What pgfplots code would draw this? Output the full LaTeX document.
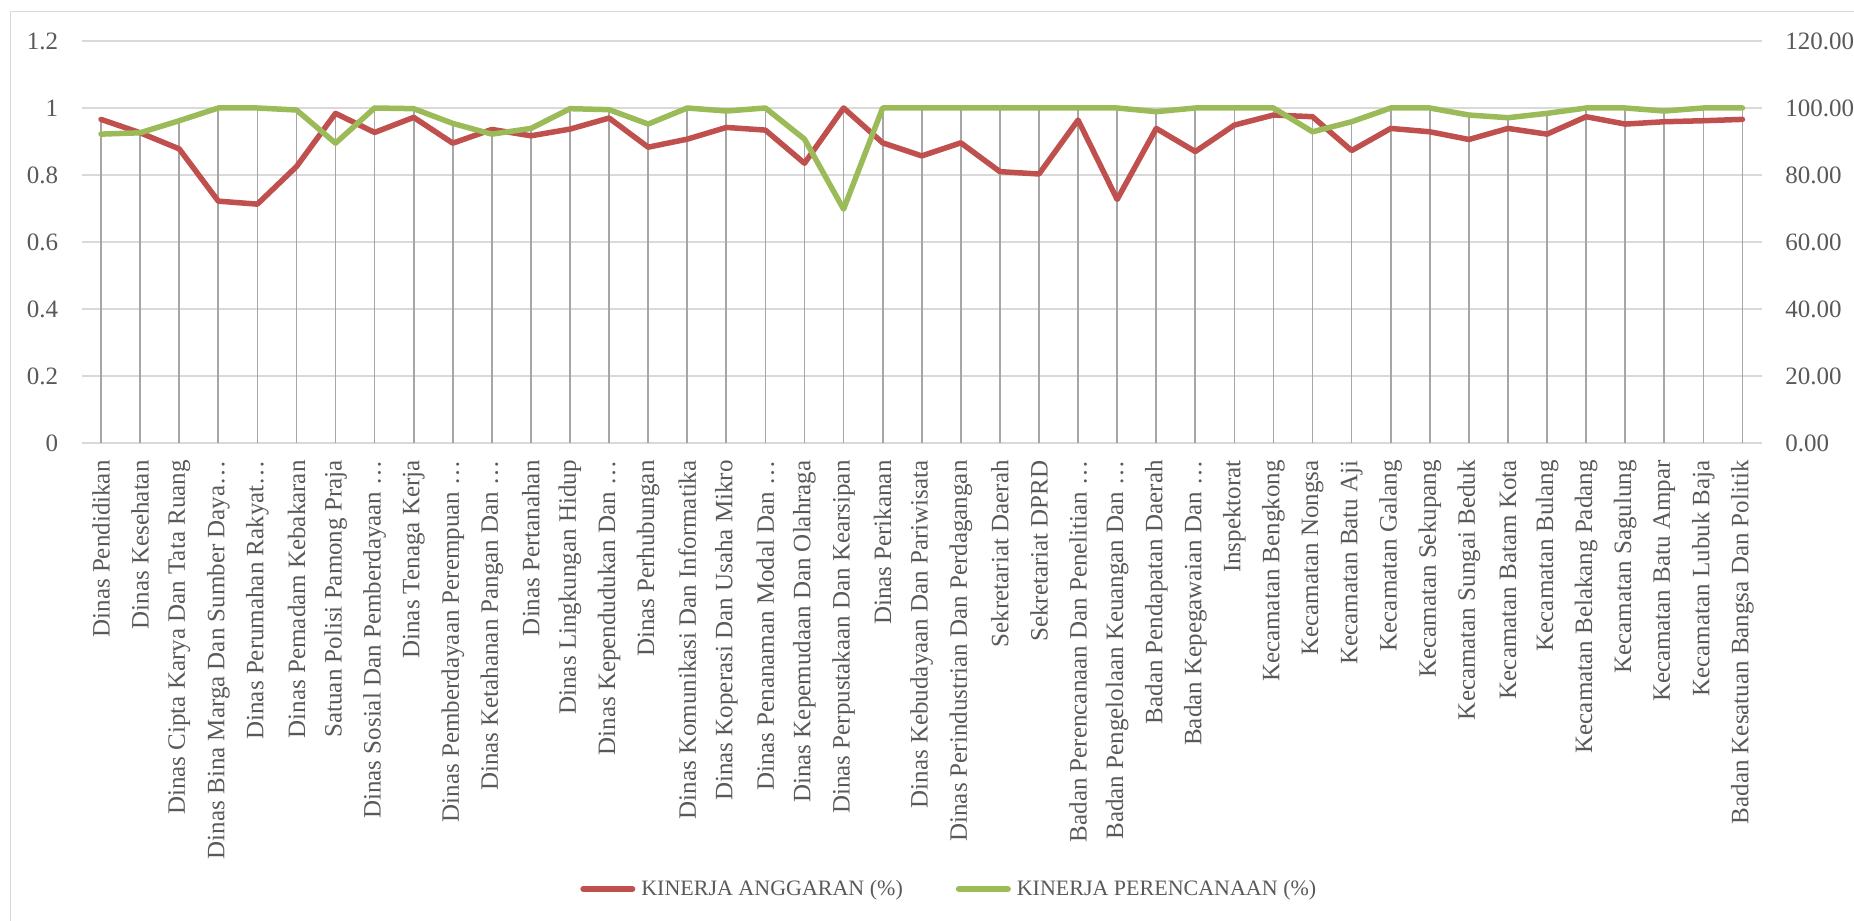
\documentclass[border=0pt]{standalone}
\usepackage{pgfplots}
\pgfplotsset{compat=1.18}
\usepackage{pgfplotstable}
\usepackage{fontspec}
\setmainfont{Liberation Serif}

\definecolor{kred}{HTML}{C0504D}
\definecolor{kgreen}{HTML}{9BBB59}
\definecolor{txt}{HTML}{595959}
\definecolor{gridc}{HTML}{D9D9D9}
\definecolor{dropc}{HTML}{A6A6A6}

% i = category index, ang = kinerja anggaran (fraction), per = kinerja perencanaan (%)
\pgfplotstableread{
i  ang    per
0  0.966  92.2
1  0.926  92.6
2  0.878  96.2
3  0.722  100
4  0.713  100
5  0.825  99.4
6  0.984  89.5
7  0.927  100
8  0.972  99.8
9  0.895  95.4
10 0.936  92.2
11 0.917  93.9
12 0.937  99.8
13 0.970  99.5
14 0.883  95.2
15 0.907  100
16 0.942  99.1
17 0.934  100
18 0.835  90.7
19 1.000  69.8
20 0.896  100
21 0.857  100
22 0.896  100
23 0.810  100
24 0.803  100
25 0.964  100
26 0.727  100
27 0.939  98.9
28 0.870  100
29 0.949  100
30 0.979  100
31 0.974  92.9
32 0.873  95.9
33 0.939  100
34 0.929  100
35 0.906  97.9
36 0.939  97.1
37 0.922  98.4
38 0.974  100
39 0.952  100
40 0.959  99.1
41 0.962  100
42 0.966  100
}\kinerja

\pgfplotsset{
  kbase/.style={
    scale only axis, width=840.25pt, height=201pt,
    at={(40.75pt,239pt)}, anchor=south west,
    xmin=-0.5, xmax=42.5,
    major tick length=0pt, tick style={draw=none},
    axis line style={draw=none},
    tick label style={font=\fontsize{12.5}{14}\selectfont, text=txt,
      /pgf/number format/assume math mode=true},
  },
  kline/.style={mark=none, line width=2.75pt, line join=round, line cap=round},
}

\begin{document}
\begin{tikzpicture}
\useasboundingbox (0,0) rectangle (927pt,460.5pt);
\draw[gridc, line width=0.7pt] (5.35pt,-2pt) -- (5.35pt,454.65pt) -- (930pt,454.65pt);

\begin{axis}[kbase,
    ymin=0, ymax=1.2, ytick={0,0.2,0.4,0.6,0.8,1,1.2},
    ymajorgrids, grid style={gridc, line width=0.7pt},
    xtick={0,...,42},
    xticklabels={Dinas Pendidikan, Dinas Kesehatan, Dinas Cipta Karya Dan Tata Ruang,
      Dinas Bina Marga Dan Sumber Daya…, Dinas Perumahan Rakyat…, Dinas Pemadam Kebakaran,
      Satuan Polisi Pamong Praja, Dinas Sosial Dan Pemberdayaan …, Dinas Tenaga Kerja,
      Dinas Pemberdayaan Perempuan …, Dinas Ketahanan Pangan Dan …, Dinas Pertanahan,
      Dinas Lingkungan Hidup, Dinas Kependudukan Dan …, Dinas Perhubungan,
      Dinas Komunikasi Dan Informatika, Dinas Koperasi Dan Usaha Mikro, Dinas Penanaman Modal Dan …,
      Dinas Kepemudaan Dan Olahraga, Dinas Perpustakaan Dan Kearsipan, Dinas Perikanan,
      Dinas Kebudayaan Dan Pariwisata, Dinas Perindustrian Dan Perdagangan, Sekretariat Daerah,
      Sekretariat DPRD, Badan Perencanaan Dan Penelitian …, Badan Pengelolaan Keuangan Dan …,
      Badan Pendapatan Daerah, Badan Kepegawaian Dan …, Inspektorat, Kecamatan Bengkong,
      Kecamatan Nongsa, Kecamatan Batu Aji, Kecamatan Galang, Kecamatan Sekupang,
      Kecamatan Sungai Beduk, Kecamatan Batam Kota, Kecamatan Bulang, Kecamatan Belakang Padang,
      Kecamatan Sagulung, Kecamatan Batu Ampar, Kecamatan Lubuk Baja, Badan Kesatuan Bangsa Dan Politik},
    xticklabel style={rotate=90, anchor=east, inner sep=0pt, font=\fontsize{12.5}{15}\selectfont},
    xticklabel shift=8.5pt,
    yticklabel style={anchor=east, inner sep=0pt},
    yticklabel shift=11.5pt,
  ]
  % drop lines of both series
  \addplot[ycomb, draw=dropc, line width=0.85pt, mark=none] table[x=i, y=ang] {\kinerja};
  \addplot[ycomb, draw=dropc, line width=0.85pt, mark=none] table[x=i, y expr=\thisrow{per}/100] {\kinerja};
  \addplot[kline, kred] table[x=i, y=ang] {\kinerja};
\end{axis}

\begin{axis}[kbase,
    ymin=0, ymax=120, ytick={0,20,...,120},
    axis y line*=right, axis x line=none,
    yticklabel style={anchor=west, inner sep=0pt,
      /pgf/number format/.cd, fixed, fixed zerofill, precision=2},
    yticklabel shift=11.5pt,
    legend columns=2,
    legend image code/.code={\draw[line width=3pt, line cap=round] (0pt,0pt) -- (24.5pt,0pt);},
    legend style={at={(0.2966,-1.1095)}, anchor=west, draw=none, fill=none, inner sep=0pt,
      font=\fontsize{11}{13}\selectfont, text=txt, nodes={inner sep=0pt},
      /tikz/every odd column/.append style={column sep=3pt},
      /tikz/every even column/.append style={column sep=26.5pt}},
  ]
  \addlegendimage{kline, kred}
  \addlegendentry{KINERJA ANGGARAN (\%)}
  \addplot[kline, kgreen] table[x=i, y=per] {\kinerja};
  \addlegendentry{KINERJA PERENCANAAN (\%)}
\end{axis}
\end{tikzpicture}
\end{document}
